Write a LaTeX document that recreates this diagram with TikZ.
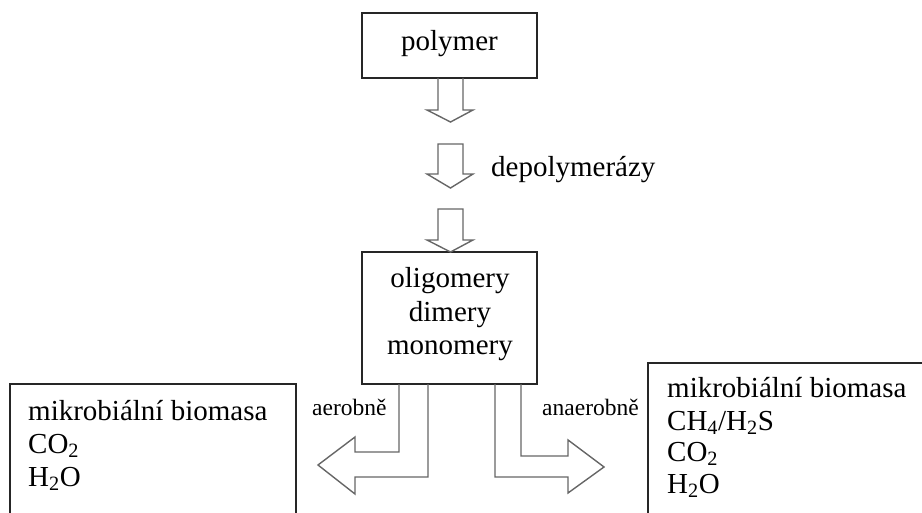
\documentclass[tikz,border=0pt]{standalone}
\usepackage{fontspec}
\setmainfont{Liberation Serif}
\begin{document}
\begin{tikzpicture}[x=1pt,y=-1pt,
  boxline/.style={draw=black!85,line width=1.8pt},
  blockarrow/.style={draw=black!60,line width=1.4pt,line join=miter},
  bigtext/.style={font=\fontsize{29}{33}\selectfont,inner sep=0pt,text=black},
  smalltext/.style={font=\fontsize{23.5}{26}\selectfont,inner sep=0pt,text=black}]
\useasboundingbox (0,0) rectangle (922,513);
\clip (0,0) rectangle (922,513);
% boxes
\node[boxline,minimum width=175pt,minimum height=65pt,inner sep=0pt] (polybox) at (449.5,45.5) {};
\node[bigtext,anchor=base] (polymer) at (449.5,51) {polymer};
\node[boxline,minimum width=175pt,minimum height=132pt,inner sep=0pt] (oligobox) at (449.5,318) {};
\node[bigtext,anchor=base] (oligo) at (450,288) {oligomery};
\node[bigtext,anchor=base] (dimer) at (450,322) {dimery};
\node[bigtext,anchor=base] (monomer) at (450,355) {monomery};
% left product box
\coordinate (lbtl) at (10,384);
\coordinate (lbbr) at (296,540);
\draw[boxline] (lbtl) rectangle (lbbr);
\node[bigtext,anchor=base west] (lmikro) at (28,420) {mikrobiální biomasa};
\node[bigtext,anchor=base west] (lco) at (28,453) {CO\textsubscript{2}};
\node[bigtext,anchor=base west] (lho) at (28,486) {H\textsubscript{2}O};
% right product box
\coordinate (rbtl) at (648,363);
\coordinate (rbbr) at (940,540);
\draw[boxline] (rbtl) rectangle (rbbr);
\node[bigtext,anchor=base west] (rmikro) at (667,397) {mikrobiální biomasa};
\node[bigtext,anchor=base west] (rch) at (667,430) {CH\textsubscript{4}/H\textsubscript{2}S};
\node[bigtext,anchor=base west] (rco) at (667,461) {CO\textsubscript{2}};
\node[bigtext,anchor=base west] (rho) at (667,493) {H\textsubscript{2}O};
% down block arrows
\draw[blockarrow] (438,78) -- (438,110) -- (427,110) -- (450.5,122) -- (473,110) -- (463,110) -- (463,78);
\draw[blockarrow] (438,144) -- (438,174) -- (427,174) -- (450.5,188) -- (473,174) -- (463,174) -- (463,144) -- cycle;
\draw[blockarrow] (438,209) -- (438,240) -- (427,240) -- (450.5,252) -- (473,240) -- (463,240) -- (463,209) -- cycle;
\node[bigtext,anchor=base west] (depol) at (491,177) {depolymerázy};
% side block arrows
\draw[blockarrow] (399,384) -- (399,452) -- (355,452) -- (355,437) -- (318,465) -- (355,494) -- (355,477) -- (428,477) -- (428,384);
\draw[blockarrow] (495,384) -- (495,477) -- (568,477) -- (568,493) -- (604,467) -- (568,440) -- (568,456) -- (521,456) -- (521,384);
\node[smalltext,anchor=base west] (aer) at (312,415) {aerobně};
\node[smalltext,anchor=base west] (anaer) at (542,415) {anaerobně};
\end{tikzpicture}
\end{document}
